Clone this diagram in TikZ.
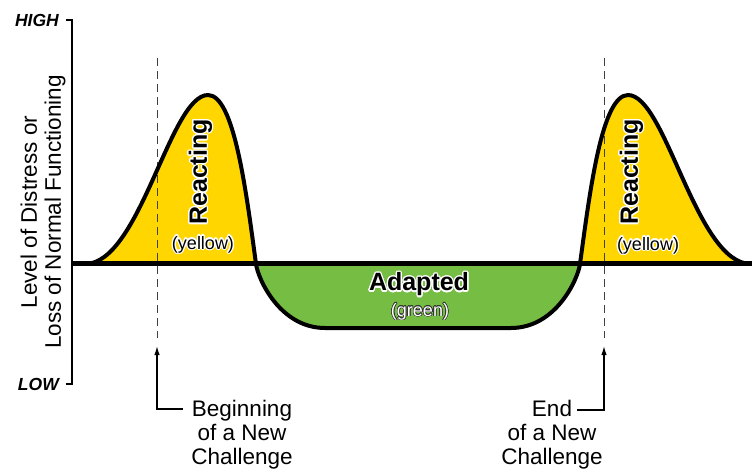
\documentclass[tikz,border=0pt]{standalone}
\usepackage{fontspec}
\setmainfont{Liberation Sans}
\usepackage{contour}
\contourlength{1.3pt}
\contournumber{16}
\usetikzlibrary{arrows.meta}
\definecolor{reactyellow}{RGB}{255,214,0}
\definecolor{adaptgreen}{RGB}{118,189,67}
\newcommand{\stresscurve}{(85,264) .. controls (140,264) and (170,95) .. (208,95)
 .. controls (234,95) and (246,190) .. (256,264)
 .. controls (258,279) and (280,328) .. (325,328)
 -- (511,328)
 .. controls (556,328) and (578,279) .. (580,264)
 .. controls (590,190) and (602,95) .. (628,95)
 .. controls (666,95) and (696,264) .. (751,264)}
\tikzset{
  curveline/.style={line width=4pt, line join=round},
  baseline/.style={line width=5pt},
  axisline/.style={line width=1.3pt},
  dashline/.style={line width=1pt, black!75, dash pattern=on 8pt off 5pt},
  connline/.style={line width=1.3pt, -{Latex[length=9pt,width=5.5pt]}},
  lbl/.style={inner sep=0pt, align=center, font=\fontsize{22.5}{24}\selectfont},
  axlbl/.style={inner sep=0pt, anchor=east, font=\fontsize{17.5}{18}\selectfont\bfseries\itshape},
  bigword/.style={inner sep=0pt, font=\fontsize{25}{26}\selectfont\bfseries},
  smallword/.style={inner sep=0pt, font=\fontsize{18}{19}\selectfont}
}
\begin{document}
\begin{tikzpicture}[x=1pt,y=-1pt]
\useasboundingbox (0,0) rectangle (752,470);
% fills
\begin{scope}
  \clip (0,0) rectangle (752,264);
  \fill[reactyellow] \stresscurve -- cycle;
\end{scope}
\begin{scope}
  \clip (0,264) rectangle (752,470);
  \fill[adaptgreen] \stresscurve -- cycle;
\end{scope}
% dashed markers
\coordinate (dl1) at (157,58);
\coordinate (dl2) at (157,338);
\coordinate (dr1) at (604,58);
\coordinate (dr2) at (604,338);
\draw[dashline] (dl1) -- (dl2);
\draw[dashline] (dr1) -- (dr2);
% curve and baseline
\draw[curveline] \stresscurve;
\coordinate (b0) at (72,264);
\coordinate (b1) at (752,264);
\draw[baseline] (b0) -- (b1);
% axis
\coordinate (ht) at (66,20);
\coordinate (hc) at (72,20);
\coordinate (lt) at (66,384);
\coordinate (lc) at (72,384);
\draw[axisline] (ht) -- (hc) -- (lc) -- (lt);
\node[axlbl] (high) at (59,20) {HIGH};
\node[axlbl] (low) at (59,384) {LOW};
\node[lbl, rotate=90] (ylab) at (43,212) {Level of Distress or\\Loss of Normal Functioning};
% region labels
\node[bigword, rotate=90] (r1) at (201,172) {\contour{white}{Reacting}};
\node[smallword] (y1) at (203,245) {\contour{white}{(yellow)}};
\node[bigword, rotate=90] (r2) at (632,172) {\contour{white}{Reacting}};
\node[smallword] (y2) at (648,246) {\contour{white}{(yellow)}};
\node[bigword] (ad) at (419,285) {\contour{white}{Adapted}};
\node[smallword, text=white] (gr) at (420,312) {\contourlength{0.6pt}\contour{black!80}{(green)}};
% bottom labels
\node[lbl] (beg) at (242,435) {Beginning\\of a New\\Challenge};
\node[lbl] (end) at (552,435) {End\\of a New\\Challenge};
\coordinate (ca) at (183,409);
\coordinate (cb) at (157,346);
\coordinate (cc) at (577,410);
\coordinate (cd) at (604,346);
\draw[connline] (ca) -| (cb);
\draw[connline] (cc) -| (cd);
\end{tikzpicture}
\end{document}
